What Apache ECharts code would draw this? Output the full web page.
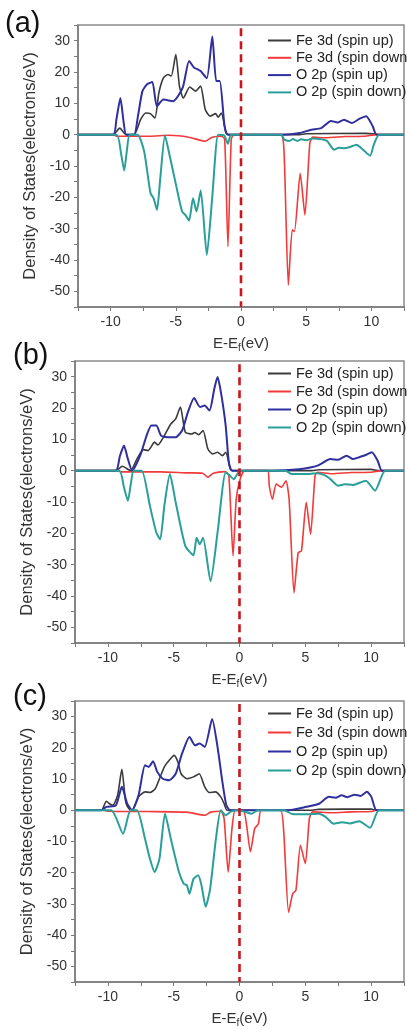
<!DOCTYPE html>
<html>
<head>
<meta charset="utf-8">
<script src="https://cdn.jsdelivr.net/npm/echarts@6/dist/echarts.min.js"></script>
<style>
html,body{margin:0;padding:0;background:#fff}
#main{width:407px;height:1029px}
</style>
</head>
<body>
<div id="main"></div>
<script>
/* 数据 */

const names = ['Fe 3d (spin up)', 'Fe 3d (spin down)', 'O 2p (spin up)', 'O 2p (spin down)'];
const colors = ['#3a3a3a', '#f23a3a', '#2f2f9e', '#2a9f99'];
const xTicks = [-10, -5, 0, 5, 10];
const yTicks = [30, 20, 10, 0, -10, -20, -30, -40, -50];
const panelLabels = ['(a)', '(b)', '(c)'];
const efLine = [[0, 34], [0, -55]];

// (a)
const feUpA = [[-12.5,0],[-9.8,0],[-9.3,2.1],[-8.8,0],[-8.2,0],[-7.7,4.8],[-7.3,6.9],[-6.95,6.7],[-6.6,5.3],[-6.3,13.3],[-5.95,18.1],[-5.6,19.2],[-5.35,18.7],[-5.0,25.6],[-4.72,15.5],[-4.42,11.7],[-3.93,15.2],[-3.48,13.9],[-3.1,15.5],[-2.74,8.0],[-2.37,5.9],[-1.95,6.7],[-1.75,5.6],[-1.5,6.9],[-1.15,0.5],[-0.95,0],[4.5,0],[5,0.3],[9.5,0.4],[10.3,0.2],[10.5,0],[12.5,0]];
const feDnA = [[-12.5,0],[-9.8,0],[-9.5,-0.5],[-7,-0.5],[-5.5,-0.2],[-4,-0.8],[-2.74,-2.1],[-2.2,-0.8],[-1.5,-0.5],[-1.25,-1.5],[-1.0,-35.7],[-0.75,-1.6],[-0.55,0],[3.05,0],[3.3,-5.3],[3.63,-48],[3.93,-30.4],[4.1,-30.9],[4.54,-12.3],[4.9,-25.6],[5.28,-2.7],[5.5,-0.8],[6.5,-1.0],[8,-0.6],[9.5,-0.5],[10.4,0],[12.5,0]];
const oUpA = [[-12.5,0],[-9.8,0],[-9.55,5],[-9.25,11.7],[-9.0,4],[-8.8,0],[-8.2,0],[-7.9,6],[-7.56,13.9],[-7.2,16.1],[-6.8,16.8],[-6.45,9.1],[-5.95,11.2],[-5.2,10.7],[-4.47,15],[-3.98,23.5],[-3.6,21.4],[-3.3,20.8],[-3.1,20.3],[-2.62,18.0],[-2.2,31.3],[-1.9,17.1],[-1.63,17.1],[-1.26,2.7],[-1.0,0],[3.2,0],[4.5,0.5],[5.4,1.6],[6.15,2.1],[6.9,4.4],[7.4,3.9],[7.9,4.8],[8.5,3.7],[9.1,5.1],[9.6,5.9],[10.1,2.7],[10.4,0],[12.5,0]];
const oDnA = [[-12.5,0],[-9.55,0],[-9.2,-6],[-8.96,-11.4],[-8.75,-5],[-8.54,0],[-7.93,0],[-7.43,-5.3],[-6.94,-18.7],[-6.7,-20.3],[-6.44,-24],[-6.2,-14.4],[-5.83,-0.3],[-5.46,-6.9],[-4.96,-16.5],[-4.52,-24.5],[-4.27,-25.6],[-3.98,-27.4],[-3.68,-20.3],[-3.41,-24.5],[-3.09,-17.8],[-2.62,-38.4],[-2.2,-19.7],[-1.75,0],[-1.3,-0.2],[-1.0,-2.9],[-0.75,0],[3.1,0],[3.3,-1.5],[3.7,-2],[4.0,-1.4],[4.3,-2],[4.6,-1.5],[5,-1.8],[5.5,-1.2],[6.2,-1.5],[6.6,-2],[7.14,-4.8],[7.5,-4.2],[7.88,-4.3],[8.3,-4],[8.86,-3.2],[9.36,-4.8],[9.9,-6.7],[10.2,-3],[10.6,0],[12.5,0]];

// (b)
const feUpB = [[-12.5,0],[-9.4,0],[-8.9,1.4],[-8.28,0],[-7.8,3.7],[-7.3,6.7],[-6.94,6.4],[-6.45,9.1],[-6.2,8.2],[-5.71,11.2],[-5.22,14.9],[-4.85,16.5],[-4.49,20.3],[-4.12,12.3],[-3.63,11.7],[-3.4,12.2],[-3.1,11.5],[-2.77,12.8],[-2.4,6.9],[-2.03,5.3],[-1.67,5.9],[-1.3,4.8],[-1.05,5.9],[-0.69,0.5],[-0.5,0],[5.5,0],[6,0.3],[10,0.4],[10.6,0],[12.5,0]];
const feDnB = [[-12.5,0],[-9.3,0],[-9,-0.4],[-6,-0.4],[-4,-0.7],[-2.8,-0.8],[-2.4,-2.1],[-2.0,-0.8],[-1.1,-0.3],[-0.81,-1.6],[-0.49,-27.2],[-0.25,-9.1],[0.05,-2.7],[0.4,0],[2.13,0],[2.26,-4.8],[2.5,-9.1],[2.79,-4.3],[3.19,-5.3],[3.53,-3.2],[3.77,-9.1],[4.14,-39],[4.46,-26.2],[4.71,-25.6],[5.07,-10.1],[5.4,-20.3],[5.74,-1.6],[5.93,-0.5],[7,-1],[8.5,-0.6],[10,-0.5],[10.8,0],[12.5,0]];
const oUpB = [[-12.5,0],[-9.4,0],[-9.1,4.5],[-8.78,8],[-8.5,4],[-8.16,0],[-7.55,4.8],[-7.06,11.2],[-6.69,14.4],[-6.32,14.4],[-5.96,11.2],[-5.47,10.7],[-4.85,10.7],[-4.36,12.8],[-3.92,18.7],[-3.45,23.2],[-3.0,20.3],[-2.65,20.8],[-2.28,19.2],[-1.91,26.2],[-1.67,29.9],[-1.42,25.2],[-1.05,14.4],[-0.81,2.7],[-0.56,0],[2.3,0],[4,0.3],[4.95,0.7],[5.93,1.6],[6.91,3.7],[7.5,3.5],[8.14,4.8],[8.63,3.7],[9.1,4.3],[9.6,5.0],[10.05,5.9],[10.5,3.2],[10.83,0],[12.5,0]];
const oDnB = [[-12.5,0],[-9.14,0],[-8.8,-5],[-8.48,-9.6],[-8.25,-4],[-8.04,0],[-7.43,0],[-6.81,-11.2],[-6.32,-19.8],[-6.03,-21.9],[-5.71,-11.2],[-5.29,-1.1],[-4.85,-10.1],[-4.12,-24],[-3.5,-27],[-3.26,-21.4],[-3.02,-23.5],[-2.77,-21.4],[-2.2,-35.3],[-1.67,-19.8],[-1.05,-0.5],[-0.75,-1.5],[-0.44,-2.7],[0.05,0],[3.5,0],[3.97,-1.1],[5,-1.1],[5.9,-0.8],[6.5,-1.5],[6.91,-2.7],[7.5,-4.8],[8,-4.3],[8.6,-4.6],[9.6,-3.2],[10.3,-6.4],[11.07,0],[12.5,0]];

// (c)
const feUpC = [[-12.5,0],[-10.5,0],[-10.12,2.9],[-9.88,2.1],[-9.63,1.6],[-9.26,4.8],[-8.94,13.1],[-8.65,2.7],[-8.4,0.5],[-8.16,0],[-7.67,4.3],[-7.18,5.9],[-6.8,5.7],[-6.4,6.9],[-6.08,10.1],[-5.71,13.9],[-5.34,16.0],[-4.97,17.6],[-4.68,15.5],[-4.44,11.7],[-3.99,10.1],[-3.5,10.7],[-3.06,11.7],[-2.64,7.5],[-2.28,5.7],[-1.84,5.9],[-1.42,4.3],[-1.17,2.1],[-0.93,0],[5.5,0],[6,0.3],[10,0.4],[10.4,0],[12.5,0]];
const feDnC = [[-12.5,0],[-10.3,0],[-10,-0.3],[-7,-0.4],[-4,-0.6],[-2.64,-1.6],[-2.2,-0.6],[-1.4,-0.3],[-1.17,-2.7],[-0.86,-19.8],[-0.56,-5.3],[-0.32,0],[0.29,0],[0.54,-4.8],[0.83,-13.3],[1.15,-5.9],[1.44,-4.3],[1.64,0],[3.11,0],[3.36,-6.9],[3.73,-32.7],[4.04,-26.7],[4.29,-25.6],[4.63,-11.2],[5.0,-17.1],[5.31,-2.7],[5.56,-0.5],[7,-0.8],[8.5,-0.5],[10,-0.4],[10.4,0],[12.5,0]];
const oUpC = [[-12.5,0],[-10.5,0],[-10.12,1.1],[-9.39,1.6],[-8.94,7.5],[-8.53,2.1],[-8.16,0],[-7.67,4.8],[-7.18,14.4],[-6.89,13.9],[-6.57,15.7],[-6.25,12.3],[-5.83,10.1],[-5.34,9.6],[-4.85,11.7],[-4.36,18.2],[-3.8,23.5],[-3.38,20.8],[-3.02,21.4],[-2.64,20.3],[-2.08,29.2],[-1.67,20.3],[-1.3,9.1],[-1.0,1.6],[-0.69,0],[3.6,0],[5.07,1.1],[6.05,2.1],[6.79,4.3],[7.3,4.0],[7.76,4.8],[8.2,4.2],[8.75,5.0],[9.2,4.6],[9.68,5.9],[10.02,4.3],[10.42,0],[12.5,0]];
const oDnC = [[-12.5,0],[-9.76,0],[-8.85,-7.5],[-8.28,0],[-7.79,0],[-7.18,-9.1],[-6.81,-15.5],[-6.45,-19.8],[-6.08,-15.5],[-5.66,-1.1],[-5.22,-9.1],[-4.6,-19.8],[-4.24,-23.5],[-4.0,-24],[-3.8,-26.7],[-3.5,-22],[-3.14,-20.8],[-2.89,-24],[-2.57,-30.9],[-2.23,-25.1],[-1.79,-9.1],[-1.42,0],[-1.05,-1.6],[-0.7,-0.5],[-0.2,0],[0.42,-0.5],[0.9,-1.1],[1.4,0],[3.4,0],[4,-1.2],[5,-1.3],[6,-1.1],[6.54,-2.1],[7.15,-4.3],[7.8,-3.8],[8.4,-4.2],[9.1,-3.5],[9.92,-5.6],[10.6,0],[12.5,0]];

const panels = [
    [feUpA, feDnA, oUpA, oDnA],
    [feUpB, feDnB, oUpB, oDnB],
    [feUpC, feDnC, oUpC, oDnC]
];

/* 布局 */
const font = 'Liberation Sans, Arial, sans-serif';
const grids = [
    {left: 78, top: 25, width: 338, height: 282},
    {left: 75, top: 361, width: 340, height: 282},
    {left: 75, top: 701, width: 340, height: 281}
];
const legendTops = [33, 366, 706];
const legendGaps = [2.3, 3, 4];
const labelPos = [[5, 25], [13, 357], [13, 698]];
const widths = [1.6, 1.6, 2, 2];

let option = {
    animation: false,
    backgroundColor: '#fff',
    textStyle: {fontFamily: font},
    grid: [], xAxis: [], yAxis: [], legend: [], series: [], graphic: []
};

grids.forEach((g, i) => {
    option.grid.push(Object.assign({show: true, borderColor: '#8a8a8a', borderWidth: 1.5}, g));
    option.xAxis.push({
        type: 'value', gridIndex: i, min: -12.5, max: 12.5, interval: 2.5,
        name: 'E-E{s|f}(eV)', nameLocation: 'middle', nameGap: 27,
        nameTextStyle: {fontSize: 15, color: '#333', rich: {s: {fontSize: 10, padding: [9, 0, 0, 0], color: '#333'}}},
        axisLine: {onZero: false, lineStyle: {color: '#7a7a7a', width: 1.5}},
        axisTick: {length: 4, lineStyle: {color: '#7a7a7a'}},
        axisLabel: {fontSize: 14, color: '#333', margin: 8,
            formatter: v => xTicks.includes(v) ? String(v) : ''},
        splitLine: {show: false}
    });
    option.yAxis.push({
        type: 'value', gridIndex: i, min: -55, max: 35, interval: 5,
        name: 'Density of States(electrons/eV)', nameLocation: 'middle', nameGap: 36,
        nameTextStyle: {fontSize: 16.5, color: '#333'},
        axisLine: {onZero: false, lineStyle: {color: '#7a7a7a', width: 1.5}},
        axisTick: {length: 4, lineStyle: {color: '#7a7a7a'}},
        axisLabel: {fontSize: 14, color: '#333', margin: 8,
            formatter: v => yTicks.includes(v) ? String(v) : ''},
        splitLine: {show: false}
    });
    // 图例：只画线段，不画圆点
    option.legend.push({
        orient: 'vertical', left: 268, top: legendTops[i], padding: 0,
        icon: 'rect', itemWidth: 23, itemHeight: 2, itemGap: legendGaps[i],
        textStyle: {fontSize: 14.5, color: '#222', lineHeight: 14},
        data: names
    });
    panels[i].forEach((d, k) => {
        option.series.push({
            type: 'line', name: names[k], xAxisIndex: i, yAxisIndex: i,
            data: d, symbol: 'none', color: colors[k], smooth: 0.2,
            lineStyle: {width: widths[k], color: colors[k]}
        });
    });
    // 费米能级虚线
    option.series.push({
        type: 'line', name: 'Ef', xAxisIndex: i, yAxisIndex: i,
        data: efLine, symbol: 'none', silent: true,
        lineStyle: {width: 2.6, color: '#c8161e', type: [8, 5]}
    });
    option.graphic.push({
        type: 'text', left: labelPos[i][0], top: labelPos[i][1] - 16,
        style: {text: panelLabels[i], font: '29px ' + font, fill: '#111'}
    });
});

let myChart = echarts.init(document.getElementById('main'));
myChart.setOption(option);
</script>
</body>
</html>
